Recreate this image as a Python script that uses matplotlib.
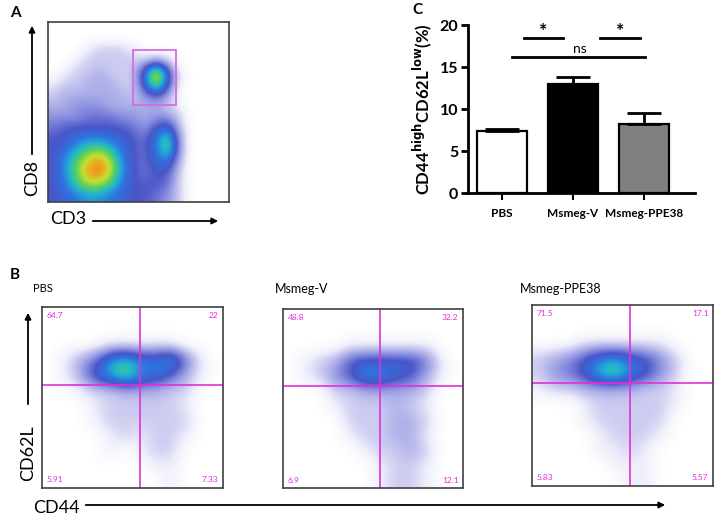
import numpy as np
import matplotlib
matplotlib.use('Agg')
import matplotlib.pyplot as plt
from matplotlib.colors import LinearSegmentedColormap
from matplotlib.patches import Rectangle, FancyArrowPatch

plt.rcParams['font.family'] = ['Lato', 'DejaVu Sans']

# bar chart data (panel C)
groups = ['PBS', 'Msmeg-V', 'Msmeg-PPE38']
pct_memory = [7.4, 13.0, 8.2]
pct_sem = [0.25, 0.8, 1.3]
bar_colors = ['white', 'black', '#808080']
y_ticks = [0, 5, 10, 15, 20]

# quadrant percentages (panel B)
b_titles = ['PBS', 'Msmeg-V', 'Msmeg-PPE38']
quad_ul = ['64.7', '48.8', '71.5']
quad_ur = ['22', '32.2', '17.1']
quad_ll = ['5.91', '6.9', '5.83']
quad_lr = ['7.33', '12.1', '5.57']
gate_x = [0.54, 0.54, 0.54]
gate_y = [0.57, 0.57, 0.57]

# density levels (row 0 = top), 0 = empty, 9 = densest
dens_a = [
    [0, 0, 0, 0, 0, 0, 0, 0, 0, 0, 0, 0, 0, 0, 0, 0],
    [0, 0, 0, 0, 0, 0, 0, 0, 0, 0, 0, 0, 0, 0, 0, 0],
    [0, 0, 0, 0.5, 1, 1, 1, 0.5, 0, 0, 0, 0, 0, 0, 0, 0],
    [0, 0, 0.5, 1, 1, 1, 1, 1, 1, 1.5, 1, 0, 0, 0, 0, 0],
    [0, 0.5, 1, 1, 1.5, 1, 1, 1, 3.5, 8, 3.5, 0.5, 0, 0, 0, 0],
    [0.5, 1, 1, 1.5, 1.5, 1.5, 1, 1, 3.5, 7.5, 3.5, 0.5, 0, 0, 0, 0],
    [1, 1.5, 1.5, 1.5, 1.5, 1.5, 1.5, 1, 2, 3, 2, 0, 0, 0, 0, 0],
    [1.5, 1.5, 2, 2, 2, 1.5, 1.5, 1.5, 1.5, 1.5, 1, 0.5, 0, 0, 0, 0],
    [2, 2, 2, 2.5, 2.5, 2.5, 2, 2, 1.5, 2, 2, 1, 0, 0, 0, 0],
    [2.5, 3, 3, 3, 3, 3, 3, 2.5, 2, 3, 4, 1.5, 0, 0, 0, 0],
    [3, 3, 4, 4.5, 4.5, 4, 3.5, 3, 2.5, 4, 6.5, 2, 0, 0, 0, 0],
    [3, 4, 5, 6, 6.5, 5.5, 4, 3, 2.5, 4, 6, 2, 0, 0, 0, 0],
    [3, 4.5, 6, 7.5, 8.5, 7, 4.5, 3, 2.5, 3.5, 4, 1.5, 0, 0, 0, 0],
    [3, 4.5, 6, 8, 8.5, 7, 4.5, 3, 2.5, 3, 3, 1, 0, 0, 0, 0],
    [3, 4, 5.5, 6.5, 6.5, 5.5, 4, 3, 3, 3, 2.5, 1, 0, 0, 0, 0],
    [3, 3.5, 4, 4.5, 4.5, 4, 3.5, 3, 3, 2.5, 2, 1, 0, 0, 0, 0],
]

dens_pbs = [
    [0, 0, 0, 0, 0, 0, 0, 0, 0, 0, 0, 0],
    [0, 0, 0, 0, 0, 0, 0, 0, 0, 0, 0, 0],
    [0, 0, 0, 0, 0.5, 0.5, 0.5, 0.5, 0.5, 0, 0, 0],
    [0, 0.5, 1.5, 2.5, 4.5, 5.5, 4, 4, 5, 2.5, 0.5, 0],
    [0, 0.5, 1.5, 3.5, 5, 6.5, 4.5, 4, 3, 1.5, 0.5, 0],
    [0, 0, 0.5, 1, 1, 1.5, 1.5, 1.5, 1, 1, 0, 0],
    [0, 0, 0, 0.5, 1, 1, 1, 1, 1, 0.5, 0, 0],
    [0, 0, 0, 0.5, 1, 1, 1, 1, 1, 1, 0, 0],
    [0, 0, 0, 0, 0.5, 1, 0.5, 1, 1, 0.5, 0, 0],
    [0, 0, 0, 0, 0.5, 0, 0.5, 1, 1, 0, 0, 0],
    [0, 0, 0, 0, 0, 0, 0, 0.5, 0.5, 0, 0, 0],
    [0, 0, 0, 0, 0, 0, 0, 0, 0.5, 0, 0, 0],
]

dens_v = [
    [0, 0, 0, 0, 0, 0, 0, 0, 0, 0, 0, 0],
    [0, 0, 0, 0, 0, 0, 0, 0, 0, 0, 0, 0],
    [0, 0, 0, 0, 0.5, 0.5, 0.5, 0.5, 0.5, 0.5, 0, 0],
    [0, 0.5, 1, 1.5, 3, 3.5, 3.5, 3.5, 3.5, 2.5, 0.5, 0],
    [0, 0.5, 1, 2, 3, 4.5, 4.5, 3.5, 3, 1.5, 0.5, 0],
    [0, 0, 0, 1, 1, 1.5, 1.5, 1.5, 1.5, 1, 0, 0],
    [0, 0, 0, 0.5, 1, 1, 1, 1.5, 1, 0.5, 0, 0],
    [0, 0, 0, 0, 1, 1, 1, 1.5, 1.5, 1, 0, 0],
    [0, 0, 0, 0, 0.5, 1, 1, 1.5, 1.5, 0.5, 0, 0],
    [0, 0, 0, 0, 0, 0.5, 1, 1, 1.5, 1, 0, 0],
    [0, 0, 0, 0, 0, 0, 0.5, 1, 1, 0.5, 0, 0],
    [0, 0, 0, 0, 0, 0, 0.5, 1, 1, 0.5, 0, 0],
]

dens_ppe = [
    [0, 0, 0, 0, 0, 0, 0, 0, 0, 0, 0, 0],
    [0, 0, 0, 0, 0, 0, 0, 0, 0, 0, 0, 0],
    [0, 0, 0, 0.5, 0.5, 0.5, 0.5, 0.5, 0.5, 0, 0, 0],
    [1, 1.5, 2, 3, 4, 4.5, 3.5, 3, 2, 1, 0, 0],
    [1, 2, 2.5, 3.5, 5.5, 6.5, 4.5, 3.5, 2, 1, 0, 0],
    [0.5, 1, 1, 1.5, 1.5, 1.5, 1.5, 1, 1, 0.5, 0, 0],
    [0, 0, 0, 0.5, 1, 1, 1, 1, 1, 0.5, 0, 0],
    [0, 0, 0, 0.5, 1, 1, 1, 1, 1, 0, 0, 0],
    [0, 0, 0, 0, 0.5, 1, 1, 1, 0.5, 0, 0, 0],
    [0, 0, 0, 0, 0.5, 0.5, 1, 0.5, 0, 0, 0, 0],
    [0, 0, 0, 0, 0, 0.5, 0.5, 0.5, 0, 0, 0, 0],
    [0, 0, 0, 0, 0, 0, 0.5, 0.5, 0, 0, 0, 0],
]

flow_cmap = LinearSegmentedColormap.from_list('flow', [
    (0.0, '#ffffff'), (0.5 / 9, '#eeeefb'), (1 / 9, '#cccbf0'), (2 / 9, '#8c92e0'),
    (3 / 9, '#4a56c8'), (4 / 9, '#2c74e0'), (5 / 9, '#22b4d0'), (6 / 9, '#58d060'),
    (7 / 9, '#c4e030'), (8 / 9, '#f0a020'), (1.0, '#e82010')])

PINK = '#e030d8'


def density_panel(ax, grid):
    ax.imshow(np.array(grid), cmap=flow_cmap, vmin=0, vmax=9, extent=[0, 1, 0, 1],
              origin='upper', interpolation='bicubic', aspect='auto')
    ax.set_xlim(0, 1)
    ax.set_ylim(0, 1)
    ax.set_xticks([])
    ax.set_yticks([])
    for s in ax.spines.values():
        s.set_color('#404040')
        s.set_linewidth(1.2)


def fig_arrow(x0, y0, x1, y1):
    # pixel coordinates of the reference image
    fig.add_artist(FancyArrowPatch((x0 / 725, 1 - y0 / 520), (x1 / 725, 1 - y1 / 520),
                                   transform=fig.transFigure, arrowstyle='-|>', color='black',
                                   lw=1.3, mutation_scale=9))


fig = plt.figure(figsize=(7.25, 5.2), dpi=100)

# ---- panel A
axA = fig.add_axes([0.0662, 0.6115, 0.2497, 0.3462])
density_panel(axA, dens_a)
axA.add_patch(Rectangle((0.47, 0.539), 0.237, 0.305, fill=False, edgecolor='#d070e0', lw=1.3))

fig.text(0.014, 0.975, 'A', fontsize=11, fontweight='bold', va='center')
fig.text(0.044, 1 - 178 / 520, 'CD8', rotation=90, fontsize=13, ha='center', va='center')
fig.text(0.069, 1 - 219 / 520, 'CD3', fontsize=13, ha='left', va='center')
fig_arrow(32, 157, 32, 23)
fig_arrow(90, 221, 221, 221)

# ---- panel C
axC = fig.add_axes([0.6455, 0.6288, 0.313, 0.323])
xpos = np.arange(len(groups))
axC.bar(xpos, pct_memory, width=0.70, color=bar_colors, edgecolor='black', linewidth=1.6, zorder=2)
axC.errorbar(xpos, pct_memory, yerr=[np.zeros(3), pct_sem], fmt='none', ecolor='black',
             elinewidth=2, capsize=12, capthick=2, zorder=3)
axC.set_xlim(-0.48, 2.72)
axC.set_ylim(0, 20)
axC.set_yticks(y_ticks)
axC.set_xticks(xpos)
axC.set_xticklabels(groups, fontsize=8.5, fontweight='bold')
for lab in axC.get_yticklabels():
    lab.set_fontweight('bold')
    lab.set_fontsize(11.5)
axC.spines['top'].set_visible(False)
axC.spines['right'].set_visible(False)
axC.spines['left'].set_linewidth(2)
axC.spines['bottom'].set_linewidth(2)
axC.tick_params(axis='y', width=2, length=5, pad=2)
axC.tick_params(axis='x', width=1.5, length=5, pad=6)
axC.set_ylabel('CD44$^{\\mathbf{high}}$CD62L$^{\\mathbf{low}}$(%)', fontsize=12, fontweight='bold', labelpad=4)
axC.plot([0.31, 0.86], [18.5, 18.5], color='black', lw=2, clip_on=False)
axC.plot([1.38, 1.94], [18.5, 18.5], color='black', lw=2, clip_on=False)
axC.plot([0.14, 2.01], [16.2, 16.2], color='black', lw=2, clip_on=False)
axC.text(0.58, 18.2, '*', fontsize=14, ha='center', va='bottom', fontweight='bold')
axC.text(1.66, 18.2, '*', fontsize=14, ha='center', va='bottom', fontweight='bold')
axC.text(1.10, 16.4, 'ns', fontsize=10, ha='center', va='bottom')
fig.text(412 / 725, 1 - 10 / 520, 'C', fontsize=11, fontweight='bold', va='center')

# ---- panel B
b_rects = [[0.0579, 0.0615, 0.2497, 0.348],
           [0.3903, 0.0615, 0.2483, 0.344],
           [0.7338, 0.0654, 0.2497, 0.348]]
b_grids = [dens_pbs, dens_v, dens_ppe]
b_title_x = [33, 275, 520]
b_title_size = [8, 9, 9]
for i in range(3):
    ax = fig.add_axes(b_rects[i])
    density_panel(ax, b_grids[i])
    ax.axvline(gate_x[i], color=PINK, lw=1.2)
    ax.axhline(gate_y[i], color=PINK, lw=1.2)
    kw = dict(fontsize=6, color=PINK, transform=ax.transAxes)
    ax.text(0.025, 0.975, quad_ul[i], ha='left', va='top', **kw)
    ax.text(0.975, 0.975, quad_ur[i], ha='right', va='top', **kw)
    ax.text(0.025, 0.025, quad_ll[i], ha='left', va='bottom', **kw)
    ax.text(0.975, 0.025, quad_lr[i], ha='right', va='bottom', **kw)
    fig.text(b_title_x[i] / 725, 1 - 289 / 520, b_titles[i], fontsize=b_title_size[i], va='center')

fig.text(0.014, 1 - 275 / 520, 'B', fontsize=11, fontweight='bold', va='center')
fig.text(28 / 725, 1 - 453 / 520, 'CD62L', rotation=90, fontsize=13, ha='center', va='center')
fig.text(33 / 725, 1 - 508 / 520, 'CD44', fontsize=13, ha='left', va='center')
fig_arrow(28, 407, 28, 310)
fig_arrow(83, 505, 668, 505)

fig.savefig('out.png', dpi=100)
